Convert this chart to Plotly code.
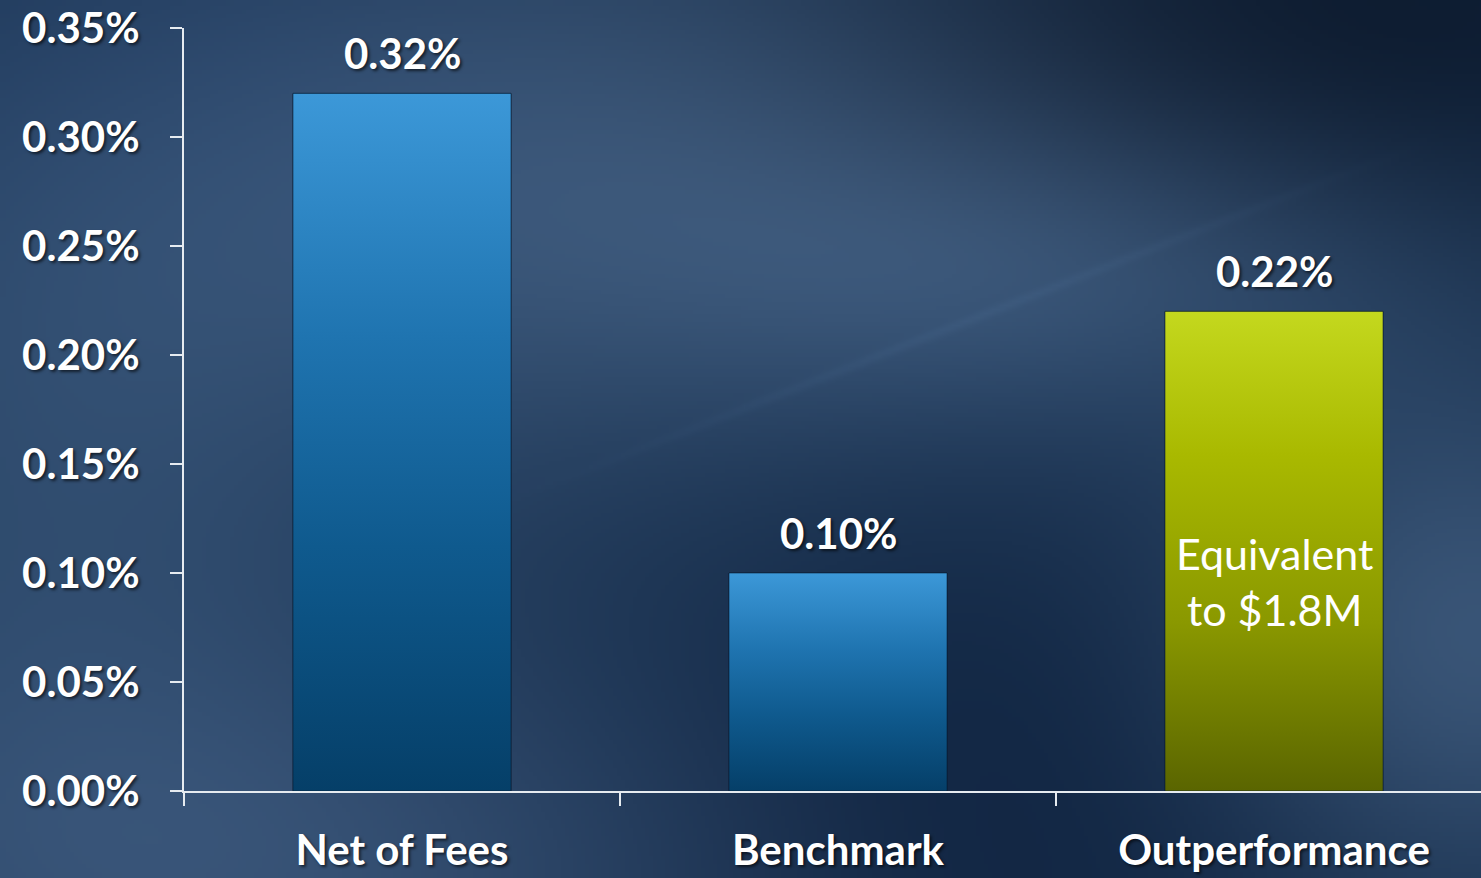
import base64
import struct
import zlib

import numpy as np
import plotly.graph_objects as go

# ---------------- data ----------------
categories = ["Net of Fees", "Benchmark", "Outperformance"]
values = [0.0032, 0.0010, 0.0022]
value_labels = ["0.32%", "0.10%", "0.22%"]
y_tick_values = [0.0, 0.0005, 0.0010, 0.0015, 0.0020, 0.0025, 0.0030, 0.0035]
note_text = "Equivalent<br>to $1.8M"
note_category_index = 2
note_value = 0.00096

# ---------------- styles ----------------
blue_scale = [[0.0, "#053f68"], [0.35, "#0f5a8e"], [0.65, "#1f74b0"], [1.0, "#3c98d8"]]
green_scale = [[0.0, "#5a6500"], [0.35, "#8a9800"], [0.7, "#a9b900"], [1.0, "#c4d81e"]]
bar_scales = [blue_scale, blue_scale, green_scale]
bar_base_colors = ["#1a6aa3", "#1a6aa3", "#9aaa00"]
W, H = 1481, 878
FONT = "Lato"
SHADOW = "2px 2px 3px rgba(0,0,0,0.6)"
AXIS_COLOR = "#e6ebf0"


# ---------------- background image ----------------
def make_background():
    s = 4
    w, h = W // s + 1, H // s + 1
    yy, xx = np.mgrid[0:h, 0:w].astype(float) * s
    img = np.zeros((h, w, 3)) + np.array([24.0, 48.0, 78.0])

    def blob(cx, cy, sx, sy, col):
        g = np.exp(-(((xx - cx) / sx) ** 2 + ((yy - cy) / sy) ** 2) / 2)
        return g[..., None] * np.array(col, dtype=float)

    img += blob(620, 170, 380, 210, (34, 38, 42))
    img += blob(40, 460, 260, 380, (20, 24, 28))
    img += blob(300, 880, 420, 170, (24, 26, 30))
    img += blob(1470, 640, 200, 180, (34, 38, 42))
    img += blob(1080, 270, 260, 110, (20, 24, 28))
    img -= blob(1300, 20, 360, 160, (14, 24, 34))
    img -= blob(980, 830, 260, 240, (12, 16, 18))
    img -= blob(120, 40, 260, 160, (4, 4, 2))

    # faint diagonal streak
    p0 = np.array([480.0, 510.0])
    p1 = np.array([1440.0, 135.0])
    d = p1 - p0
    L = np.hypot(*d)
    t = ((xx - p0[0]) * d[0] + (yy - p0[1]) * d[1]) / (L * L)
    px = p0[0] + np.clip(t, 0, 1) * d[0]
    py = p0[1] + np.clip(t, 0, 1) * d[1]
    dist = np.hypot(xx - px, yy - py)
    fade = np.clip(np.sin(np.clip(t, 0, 1) * np.pi), 0, 1)
    img += (np.exp(-(dist / 5.0) ** 2) * fade)[..., None] * np.array([5.0, 6.0, 7.0])

    arr = np.clip(img, 0, 255).astype(np.uint8)
    raw = b"".join(b"\x00" + arr[r].tobytes() for r in range(arr.shape[0]))

    def chunk(tag, data):
        c = struct.pack(">I", len(data)) + tag + data
        return c + struct.pack(">I", zlib.crc32(tag + data) & 0xFFFFFFFF)

    png = (
        b"\x89PNG\r\n\x1a\n"
        + chunk(b"IHDR", struct.pack(">IIBBBBB", arr.shape[1], arr.shape[0], 8, 2, 0, 0, 0))
        + chunk(b"IDAT", zlib.compress(raw, 9))
        + chunk(b"IEND", b"")
    )
    return "data:image/png;base64," + base64.b64encode(png).decode()


# ---------------- figure ----------------
x_pos = list(range(len(categories)))
fig = go.Figure()

fig.add_trace(
    go.Bar(
        x=x_pos,
        y=values,
        width=0.5,
        marker=dict(color=bar_base_colors, line=dict(color="rgba(8,28,50,0.6)", width=1)),
        hoverinfo="skip",
        showlegend=False,
    )
)

# vertical gradient overlays, built from the same data
for i, v in enumerate(values):
    fig.add_trace(
        go.Scatter(
            x=[i - 0.25, i + 0.25, i + 0.25, i - 0.25, i - 0.25],
            y=[0, 0, v, v, 0],
            mode="lines",
            fill="toself",
            fillgradient=dict(type="vertical", colorscale=bar_scales[i], start=0, stop=v),
            line=dict(color="rgba(8,28,50,0.55)", width=1),
            hoverinfo="skip",
            showlegend=False,
        )
    )

for i, (v, lab) in enumerate(zip(values, value_labels)):
    fig.add_annotation(
        x=i, y=v, text=lab, showarrow=False, yshift=40, yanchor="middle",
        font=dict(family=FONT, size=42, color="white", weight="bold", shadow=SHADOW),
    )

fig.add_annotation(
    x=note_category_index, y=note_value, text=note_text, showarrow=False,
    font=dict(family=FONT, size=43, color="white"),
)

fig.update_layout(
    width=W,
    height=H,
    margin=dict(l=0, r=0, t=0, b=0, autoexpand=False),
    paper_bgcolor="#1e3550",
    plot_bgcolor="rgba(0,0,0,0)",
    images=[dict(
        source=make_background(), xref="paper", yref="paper", x=0, y=1,
        sizex=1, sizey=1, sizing="stretch", xanchor="left", yanchor="top", layer="below",
    )],
    xaxis=dict(
        domain=[184 / W, 1],
        range=[-0.5, -0.5 + (W - 184) / 436],
        automargin=False,
        tickmode="array",
        tickvals=x_pos,
        ticktext=categories,
        ticks="",
        showline=True,
        linecolor=AXIS_COLOR,
        linewidth=2,
        showgrid=False,
        zeroline=False,
        ticklabelstandoff=22,
        tickfont=dict(family=FONT, size=42, color="white", weight="bold", shadow=SHADOW),
        minor=dict(tickmode="array", tickvals=[-0.5, 0.5, 1.5], ticks="outside",
                   ticklen=13, tickwidth=2, tickcolor=AXIS_COLOR, showgrid=False),
        fixedrange=True,
    ),
    yaxis=dict(
        domain=[87 / H, 850 / H],
        range=[0, 0.0035],
        automargin=False,
        tickmode="array",
        tickvals=y_tick_values,
        tickformat=".2%",
        ticks="outside",
        ticklen=12,
        tickwidth=2,
        tickcolor=AXIS_COLOR,
        showline=True,
        linecolor=AXIS_COLOR,
        linewidth=2,
        showgrid=False,
        zeroline=False,
        ticklabelstandoff=22,
        tickfont=dict(family=FONT, size=42, color="white", weight="bold", shadow=SHADOW),
        fixedrange=True,
    ),
)

fig.write_html(
    "out.html",
    config={"displayModeBar": False},
    post_script="document.body.style.margin='0';document.body.style.overflow='hidden';",
)
